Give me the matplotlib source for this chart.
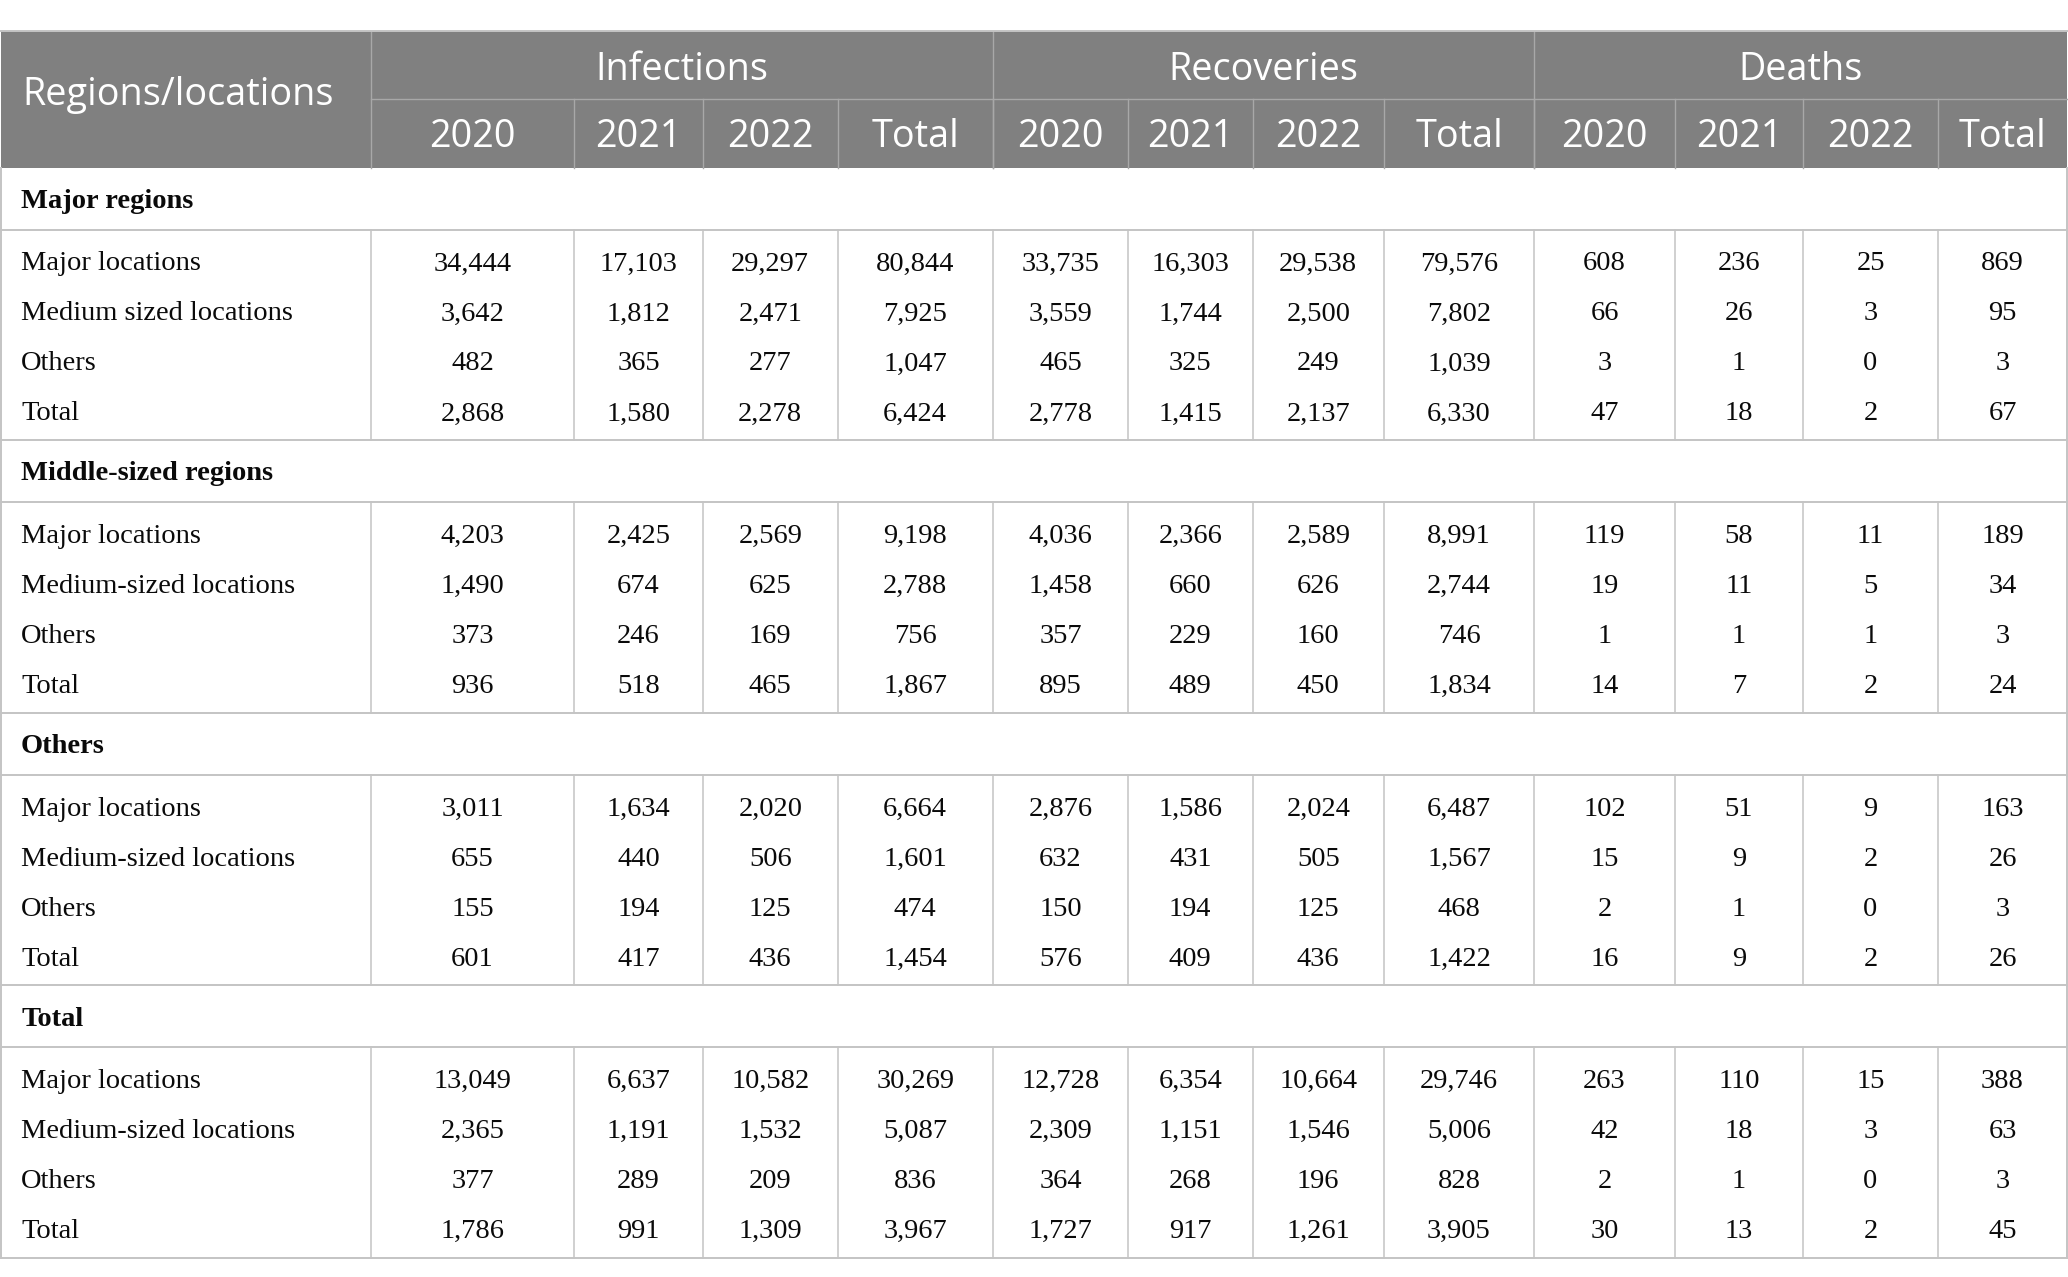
import matplotlib
matplotlib.use("Agg")
import matplotlib.pyplot as plt
from matplotlib.patches import Rectangle

# ---------------- data ----------------
groups = ["Infections", "Recoveries", "Deaths"]
sub_headers = ["2020", "2021", "2022", "Total"]
corner_header = "Regions/locations"

sections = ["Major regions", "Middle-sized regions", "Others", "Total"]
row_labels_major = ["Major locations", "Medium sized locations", "Others", "Total"]
row_labels_other = ["Major locations", "Medium-sized locations", "Others", "Total"]

# each row: Infections 2020, 2021, 2022, Total | Recoveries ... | Deaths ...
major_regions = [
    [34444, 17103, 29297, 80844, 33735, 16303, 29538, 79576, 608, 236, 25, 869],
    [3642, 1812, 2471, 7925, 3559, 1744, 2500, 7802, 66, 26, 3, 95],
    [482, 365, 277, 1047, 465, 325, 249, 1039, 3, 1, 0, 3],
    [2868, 1580, 2278, 6424, 2778, 1415, 2137, 6330, 47, 18, 2, 67],
]
middle_regions = [
    [4203, 2425, 2569, 9198, 4036, 2366, 2589, 8991, 119, 58, 11, 189],
    [1490, 674, 625, 2788, 1458, 660, 626, 2744, 19, 11, 5, 34],
    [373, 246, 169, 756, 357, 229, 160, 746, 1, 1, 1, 3],
    [936, 518, 465, 1867, 895, 489, 450, 1834, 14, 7, 2, 24],
]
other_regions = [
    [3011, 1634, 2020, 6664, 2876, 1586, 2024, 6487, 102, 51, 9, 163],
    [655, 440, 506, 1601, 632, 431, 505, 1567, 15, 9, 2, 26],
    [155, 194, 125, 474, 150, 194, 125, 468, 2, 1, 0, 3],
    [601, 417, 436, 1454, 576, 409, 436, 1422, 16, 9, 2, 26],
]
total_regions = [
    [13049, 6637, 10582, 30269, 12728, 6354, 10664, 29746, 263, 110, 15, 388],
    [2365, 1191, 1532, 5087, 2309, 1151, 1546, 5006, 42, 18, 3, 63],
    [377, 289, 209, 836, 364, 268, 196, 828, 2, 1, 0, 3],
    [1786, 991, 1309, 3967, 1727, 917, 1261, 3905, 30, 13, 2, 45],
]
section_data = [major_regions, middle_regions, other_regions, total_regions]
section_labels = [row_labels_major, row_labels_other, row_labels_other, row_labels_other]

# ---------------- layout (pixels) ----------------
W, H = 2068, 1277
col_edges = [1, 371, 574, 703, 837.5, 993, 1128, 1252.5, 1384, 1534, 1675, 1803, 1938, 2067]
head_top, head_mid, head_bot = 30.5, 99, 167.5
sec_h, block_h = 62, 210.5
row_step = 50
HEADER_BG = "#808080"
HEADER_LINE = "#a8a8a8"
GRID = "#c4c4c4"
TEXT = "#0a0a0a"
head_font = "Open Sans"
body_font = "Liberation Serif"
HFS = 27.2
BFS = 20.5

fig = plt.figure(figsize=(W / 100, H / 100), dpi=100)
ax = fig.add_axes([0, 0, 1, 1])
ax.set_xlim(0, W)
ax.set_ylim(H, 0)
ax.axis("off")

# header background
ax.add_patch(Rectangle((col_edges[0], head_top), col_edges[-1] - col_edges[0],
                       head_bot - head_top, facecolor=HEADER_BG, edgecolor="none", zorder=1))

hlw = 1.0
# header internal lines
ax.plot([col_edges[1], col_edges[-1]], [head_mid, head_mid], color=HEADER_LINE, lw=hlw, zorder=2)
ax.plot([col_edges[1], col_edges[1]], [head_top, head_bot], color=HEADER_LINE, lw=hlw, zorder=2)
for g in range(1, 3):
    x = col_edges[1 + 4 * g]
    ax.plot([x, x], [head_top, head_bot], color=HEADER_LINE, lw=hlw, zorder=2)
for i in range(2, len(col_edges) - 1):
    x = col_edges[i]
    ax.plot([x, x], [head_mid, head_bot], color=HEADER_LINE, lw=hlw, zorder=2)

# header texts
ax.text(22.5, 105.5, corner_header, color="white", fontsize=HFS, family=head_font,
        ha="left", va="baseline", zorder=3)
for g, name in enumerate(groups):
    x0, x1 = col_edges[1 + 4 * g], col_edges[5 + 4 * g]
    ax.text((x0 + x1) / 2, 80, name, color="white", fontsize=HFS, family=head_font,
            ha="center", va="baseline", zorder=3)
    for k, s in enumerate(sub_headers):
        c0, c1 = col_edges[1 + 4 * g + k], col_edges[2 + 4 * g + k]
        ax.text((c0 + c1) / 2, 147, s, color="white", fontsize=HFS, family=head_font,
                ha="center", va="baseline", zorder=3)

# body
glw = 1.1
y = head_bot
ax.plot([col_edges[0], col_edges[-1]], [head_top, head_top], color=GRID, lw=1.4, zorder=2)
for s, sec in enumerate(sections):
    # section label row
    ax.text(21, y + 40.5, sec, fontsize=BFS, family=body_font, fontweight="bold",
            color=TEXT, ha="left", va="baseline")
    y_block = y + sec_h
    ax.plot([col_edges[0], col_edges[-1]], [y_block, y_block], color=GRID, lw=1.4, zorder=2)
    for r, (lab, vals) in enumerate(zip(section_labels[s], section_data[s])):
        yb = y_block + 41 + r * row_step
        ax.text(21, yb, lab, fontsize=BFS, family=body_font, color=TEXT,
                ha="left", va="baseline")
        for c, v in enumerate(vals):
            c0, c1 = col_edges[1 + c], col_edges[2 + c]
            ax.text((c0 + c1) / 2, yb, f"{v:,}", fontsize=BFS, family=body_font,
                    color=TEXT, ha="center", va="baseline")
    y_end = y_block + block_h
    for i in range(1, len(col_edges) - 1):
        x = col_edges[i]
        ax.plot([x, x], [y_block, y_end], color=GRID, lw=glw, zorder=2)
    ax.plot([col_edges[0], col_edges[-1]], [y_end, y_end], color=GRID, lw=1.4, zorder=2)
    y = y_end

# outer left/right borders of body
ax.plot([col_edges[0], col_edges[0]], [head_bot, y], color=GRID, lw=1.4, zorder=2)
ax.plot([col_edges[-1], col_edges[-1]], [head_bot, y], color=GRID, lw=1.4, zorder=2)

fig.savefig("out.png", dpi=100, facecolor="white")
